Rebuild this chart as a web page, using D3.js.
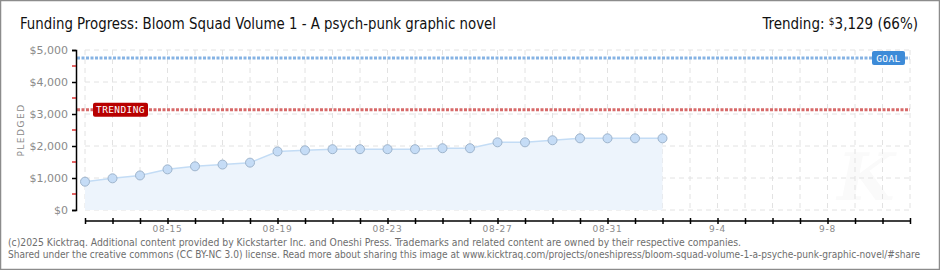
<!DOCTYPE html>
<html>
<head>
<meta charset="utf-8">
<script src="https://cdn.jsdelivr.net/npm/d3@7"></script>
<style>
  body { margin: 0; background: #fff; }
  svg { display: block; }
  .tick text { font-family: "DejaVu Sans", sans-serif; fill: #8a8a8a; }
</style>
</head>
<body>
<svg id="chart" width="940" height="270"></svg>
<script>
// data
var days = ["2025-08-12","2025-08-13","2025-08-14","2025-08-15","2025-08-16","2025-08-17","2025-08-18",
  "2025-08-19","2025-08-20","2025-08-21","2025-08-22","2025-08-23","2025-08-24","2025-08-25","2025-08-26",
  "2025-08-27","2025-08-28","2025-08-29","2025-08-30","2025-08-31","2025-09-01","2025-09-02"];
var pledged = [885, 990, 1080, 1270, 1365, 1420, 1480, 1830, 1865, 1900, 1900, 1900, 1900, 1930, 1930,
  2115, 2115, 2180, 2240, 2240, 2240, 2240];
var goal = 4750;
var trending = 3129;
var xStart = "2025-08-12", xEnd = "2025-09-11";
var labelDays = ["2025-08-15","2025-08-19","2025-08-23","2025-08-27","2025-08-31","2025-09-04","2025-09-08"];
var labelText = ["08-15","08-19","08-23","08-27","08-31","9-4","9-8"];
var yTicks = [0, 1000, 2000, 3000, 4000, 5000];
var yMinor = [500, 1500, 2500, 3500, 4500];

var parse = d3.timeParse("%Y-%m-%d");
var W = 940, H = 270;
// plot box (window.top is read-only, so not "top")
var pLeft = 85, pRight = 910, pTop = 50, pBottom = 210;

var svg = d3.select("#chart");

// frame
svg.append("rect").attr("x", 0.5).attr("y", 0.5).attr("width", W - 1).attr("height", H - 1)
  .attr("fill", "#fff").attr("stroke", "#8c8c8c").attr("stroke-width", 1.5);

var x = d3.scaleTime().domain([parse(xStart), parse(xEnd)]).range([pLeft, pRight]);
var y = d3.scaleLinear().domain([0, 5000]).range([pBottom, pTop]);

var allDays = d3.timeDay.range(parse(xStart), d3.timeDay.offset(parse(xEnd), 1));

// watermark
svg.append("text")
  .attr("x", 866).attr("y", 200)
  .attr("font-family", "DejaVu Serif, serif").attr("font-style", "italic").attr("font-weight", "bold")
  .attr("font-size", 66).attr("fill", "#fafafa").attr("text-anchor", "middle")
  .text("K");

// grid
var grid = svg.append("g");
grid.selectAll("line.v").data(allDays).enter().append("line")
  .attr("x1", d => x(d)).attr("x2", d => x(d))
  .attr("y1", pTop).attr("y2", pBottom)
  .attr("stroke", "#e2e2e2").attr("stroke-dasharray", "5,4");
grid.selectAll("line.h").data(yTicks).enter().append("line")
  .attr("x1", pLeft).attr("x2", pRight)
  .attr("y1", d => y(d)).attr("y2", d => y(d))
  .attr("stroke", "#e2e2e2").attr("stroke-dasharray", "5,4");

var pts = days.map((d, i) => ({ date: parse(d), value: pledged[i] }));

// area + line
svg.append("path").datum(pts)
  .attr("fill", "#edf4fc")
  .attr("d", d3.area().x(d => x(d.date)).y0(y(0)).y1(d => y(d.value)));
svg.append("path").datum(pts)
  .attr("fill", "none").attr("stroke", "#c3dcf5").attr("stroke-width", 1.5)
  .attr("d", d3.line().x(d => x(d.date)).y(d => y(d.value)));

// goal + trending lines
svg.append("line")
  .attr("x1", 77).attr("x2", pRight).attr("y1", y(goal)).attr("y2", y(goal))
  .attr("stroke", "#86b3e4").attr("stroke-width", 3).attr("stroke-dasharray", "3,1.5");
svg.append("line")
  .attr("x1", 77).attr("x2", pRight).attr("y1", y(trending)).attr("y2", y(trending))
  .attr("stroke", "#d76a6a").attr("stroke-width", 3).attr("stroke-dasharray", "3,1.5");

// points
svg.selectAll("circle.pt").data(pts).enter().append("circle")
  .attr("cx", d => x(d.date)).attr("cy", d => y(d.value)).attr("r", 4.5)
  .attr("fill", "#c5dcf6").attr("stroke", "#9eb4cc").attr("stroke-width", 1);

// labels on lines
function tag(cx, cy, w, fill, txt) {
  var g = svg.append("g");
  g.append("rect").attr("x", cx).attr("y", cy - 7).attr("width", w).attr("height", 14)
    .attr("rx", 2).attr("fill", fill);
  g.append("text").attr("x", cx + w / 2).attr("y", cy + 3.5).attr("text-anchor", "middle")
    .attr("font-family", "DejaVu Sans Mono, monospace").attr("font-size", 9.5)
    .attr("letter-spacing", 0.4).attr("fill", "#fff").text(txt);
}
tag(93, y(trending), 55, "#b80000", "TRENDING");
tag(872, y(goal), 33, "#3d8bd8", "GOAL");

// y axis
var yAxis = svg.append("g").attr("transform", "translate(76,0)")
  .call(d3.axisLeft(y).tickValues(yTicks).tickSize(4).tickFormat(d => "$" + d3.format(",")(d)));
yAxis.select(".domain").attr("stroke", "#000").attr("stroke-width", 1.5);
yAxis.selectAll(".tick line").attr("stroke", "#000").attr("stroke-width", 1.5);
yAxis.selectAll(".tick text").attr("font-size", 11).attr("x", -8).attr("dy", "0.35em");
svg.append("g").selectAll("line").data(yMinor).enter().append("line")
  .attr("x1", 72).attr("x2", 76).attr("y1", d => y(d)).attr("y2", d => y(d))
  .attr("stroke", "#d00000").attr("stroke-width", 1.2);

svg.append("text")
  .attr("transform", "translate(24," + ((pTop + pBottom) / 2) + ") rotate(-90)")
  .attr("text-anchor", "middle").attr("font-family", "DejaVu Sans, sans-serif")
  .attr("font-size", 9).attr("letter-spacing", 1.5).attr("fill", "#8a8a8a").text("PLEDGED");

// x axis
var xAxis = svg.append("g").attr("transform", "translate(0,221)")
  .call(d3.axisBottom(x).tickValues(allDays).tickSize(3).tickFormat(""));
xAxis.select(".domain").attr("stroke", "#000").attr("stroke-width", 1.5).attr("d", "M" + pLeft + ",0H" + pRight);
xAxis.selectAll(".tick line").attr("y1", -3).attr("y2", 3).attr("stroke", "#000").attr("stroke-width", 1.5);
svg.append("g").selectAll("text").data(labelDays).enter().append("text")
  .attr("x", d => x(parse(d))).attr("y", 232)
  .attr("text-anchor", "middle").attr("font-family", "DejaVu Sans, sans-serif")
  .attr("font-size", 9).attr("letter-spacing", 0.8).attr("fill", "#8a8a8a")
  .text((d, i) => labelText[i]);

// title
svg.append("text").attr("x", 20).attr("y", 29)
  .attr("font-family", "DejaVu Sans Condensed, DejaVu Sans, sans-serif").attr("font-size", 15)
  .attr("fill", "#111").attr("textLength", 476).attr("lengthAdjust", "spacingAndGlyphs")
  .text("Funding Progress: Bloom Squad Volume 1 - A psych-punk graphic novel");

var tr = svg.append("text").attr("x", 918).attr("y", 29).attr("text-anchor", "end")
  .attr("font-family", "DejaVu Sans Condensed, DejaVu Sans, sans-serif").attr("font-size", 15).attr("fill", "#111");
tr.append("tspan").text("Trending:  ");
tr.append("tspan").attr("font-size", 10).attr("dy", -4).text("$");
tr.append("tspan").attr("dy", 4).text(d3.format(",")(trending) + " (" + Math.round(trending / goal * 100) + "%)");

// footer
var foot = svg.append("g").attr("font-family", "DejaVu Sans Condensed, DejaVu Sans, sans-serif")
  .attr("font-size", 10.3).attr("fill", "#6e6e6e");
foot.append("text").attr("x", 8).attr("y", 246)
  .text("(c)2025 Kicktraq. Additional content provided by Kickstarter Inc. and Oneshi Press. Trademarks and related content are owned by their respective companies.");
foot.append("text").attr("x", 8).attr("y", 258).attr("font-size", 9.6)
  .attr("textLength", 912).attr("lengthAdjust", "spacingAndGlyphs")
  .text("Shared under the creative commons (CC BY-NC 3.0) license. Read more about sharing this image at www.kicktraq.com/projects/oneshipress/bloom-squad-volume-1-a-psyche-punk-graphic-novel/#share");
</script>
</body>
</html>
